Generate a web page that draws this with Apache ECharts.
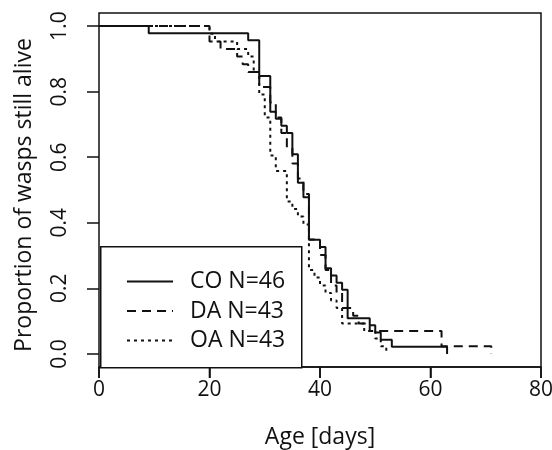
<!DOCTYPE html>
<html>
<head>
<meta charset="utf-8">
<script src="https://cdn.jsdelivr.net/npm/echarts@6/dist/echarts.min.js"></script>
<style>
html,body{margin:0;padding:0;background:#fff;}
#chart{width:552px;height:450px;}
</style>
</head>
<body>
<div id="chart"></div>
<script>
// Kaplan-Meier step data (day, proportion alive)
const coTimes = [0, 9, 27, 29, 31, 32, 33, 34, 35, 36, 37, 38, 40, 41, 42, 43, 44, 45, 49, 50, 51, 53, 63];
const coSurv  = [1, 0.978, 0.957, 0.848, 0.739, 0.717, 0.696, 0.674, 0.609, 0.522, 0.478, 0.348, 0.326, 0.261, 0.239, 0.217, 0.196, 0.109, 0.087, 0.065, 0.043, 0.022, 0];

const daTimes = [0, 20, 22, 25, 26, 27, 29, 31, 32, 33, 34, 35, 36, 37, 38, 40, 41, 42, 43, 44, 46, 47, 49, 62, 71];
const daSurv  = [1, 0.953, 0.930, 0.907, 0.884, 0.860, 0.814, 0.767, 0.721, 0.674, 0.628, 0.581, 0.535, 0.488, 0.349, 0.302, 0.256, 0.209, 0.186, 0.140, 0.116, 0.093, 0.070, 0.023, 0];

const oaTimes = [0, 20, 21, 25, 27, 28, 29, 30, 31, 32, 34, 35, 36, 37, 38, 39, 40, 41, 42, 43, 44, 48, 50, 51, 52];
const oaSurv  = [1, 0.977, 0.953, 0.930, 0.907, 0.860, 0.791, 0.721, 0.605, 0.558, 0.465, 0.442, 0.419, 0.395, 0.256, 0.233, 0.209, 0.186, 0.163, 0.140, 0.093, 0.070, 0.047, 0.023, 0];

const seriesNames = ['CO N=46', 'DA N=43', 'OA N=43'];
const xTicks = [0, 20, 40, 60, 80];
const yTicks = [0, 0.2, 0.4, 0.6, 0.8, 1.0];

function pairs(t, s) { return t.map((v, i) => [v, s[i]]); }

const FONT = 'Open Sans';
const ink = '#111';
const Y_MIN = -0.04;

const chart = echarts.init(document.getElementById('chart'), null, {renderer: 'canvas'});
chart.setOption({
  backgroundColor: '#fff',
  animation: false,
  grid: {left: 99, right: 11, top: 13, bottom: 83, containLabel: false, outerBoundsMode: 'none',
         show: true, borderColor: ink, borderWidth: 1.5, backgroundColor: 'transparent'},
  xAxis: {
    type: 'value', min: xTicks[0], max: xTicks[xTicks.length - 1], interval: 20,
    position: 'bottom',
    name: 'Age [days]', nameLocation: 'middle', nameGap: 59,
    nameTextStyle: {fontFamily: FONT, fontSize: 23, color: ink},
    axisLine: {show: true, onZero: false, lineStyle: {color: ink, width: 1.5}},
    axisTick: {show: true, inside: false, interval: 0, length: 11, lineStyle: {color: ink, width: 1.5}},
    axisLabel: {show: true, fontFamily: FONT, fontSize: 21, color: ink, margin: 13},
    splitLine: {show: false}
  },
  yAxis: {
    type: 'value', min: Y_MIN, max: 1.04,
    name: 'Proportion of wasps still alive', nameLocation: 'middle', nameGap: 63,
    nameTextStyle: {fontFamily: FONT, fontSize: 23, color: ink, padding: [0, 10, 0, 0]},
    axisLine: {show: false, onZero: false},
    axisTick: {show: true, length: 12, customValues: yTicks, lineStyle: {color: ink, width: 1.5}},
    axisLabel: {fontFamily: FONT, fontSize: 21, color: ink, rotate: 90, margin: 28,
      customValues: yTicks, formatter: v => v.toFixed(1)},
    splitLine: {show: false}
  },
  graphic: [{
    id: 'legendBox', type: 'rect', left: 100, top: 246, z: 3,
    shape: {width: 201, height: 121},
    style: {fill: '#fff', stroke: ink, lineWidth: 1.5}
  }],
  legend: {
    orient: 'vertical', left: 121, top: 265, z: 5,
    itemWidth: 46, itemHeight: 24, itemGap: 6.5,
    itemStyle: {opacity: 0},
    textStyle: {fontFamily: FONT, fontSize: 23, color: ink, padding: [0, 0, 0, 12]},
    data: seriesNames
  },
  series: [
    {name: seriesNames[0], type: 'line', step: 'end', symbol: 'none', data: pairs(coTimes, coSurv),
     lineStyle: {color: ink, width: 2, type: 'solid'}, itemStyle: {color: ink}},
    {name: seriesNames[1], type: 'line', step: 'end', symbol: 'none', data: pairs(daTimes, daSurv),
     lineStyle: {color: ink, width: 2, type: [9, 6]}, itemStyle: {color: ink}},
    {name: seriesNames[2], type: 'line', step: 'end', symbol: 'none', data: pairs(oaTimes, oaSurv),
     lineStyle: {color: ink, width: 2, type: [3, 4]}, itemStyle: {color: ink}}
  ]
});

// x-axis tick marks below the frame, placed through the chart's own x scale
const yBottom = chart.convertToPixel({yAxisIndex: 0}, Y_MIN);
const tickMarks = xTicks.map((v, i) => {
  const px = chart.convertToPixel({xAxisIndex: 0}, v);
  return {
    id: 'xtick' + i, type: 'line', z: 100, silent: true,
    shape: {x1: px, y1: yBottom, x2: px, y2: yBottom + 11},
    style: {stroke: ink, lineWidth: 1.6}
  };
});
chart.setOption({graphic: tickMarks});
</script>
</body>
</html>
